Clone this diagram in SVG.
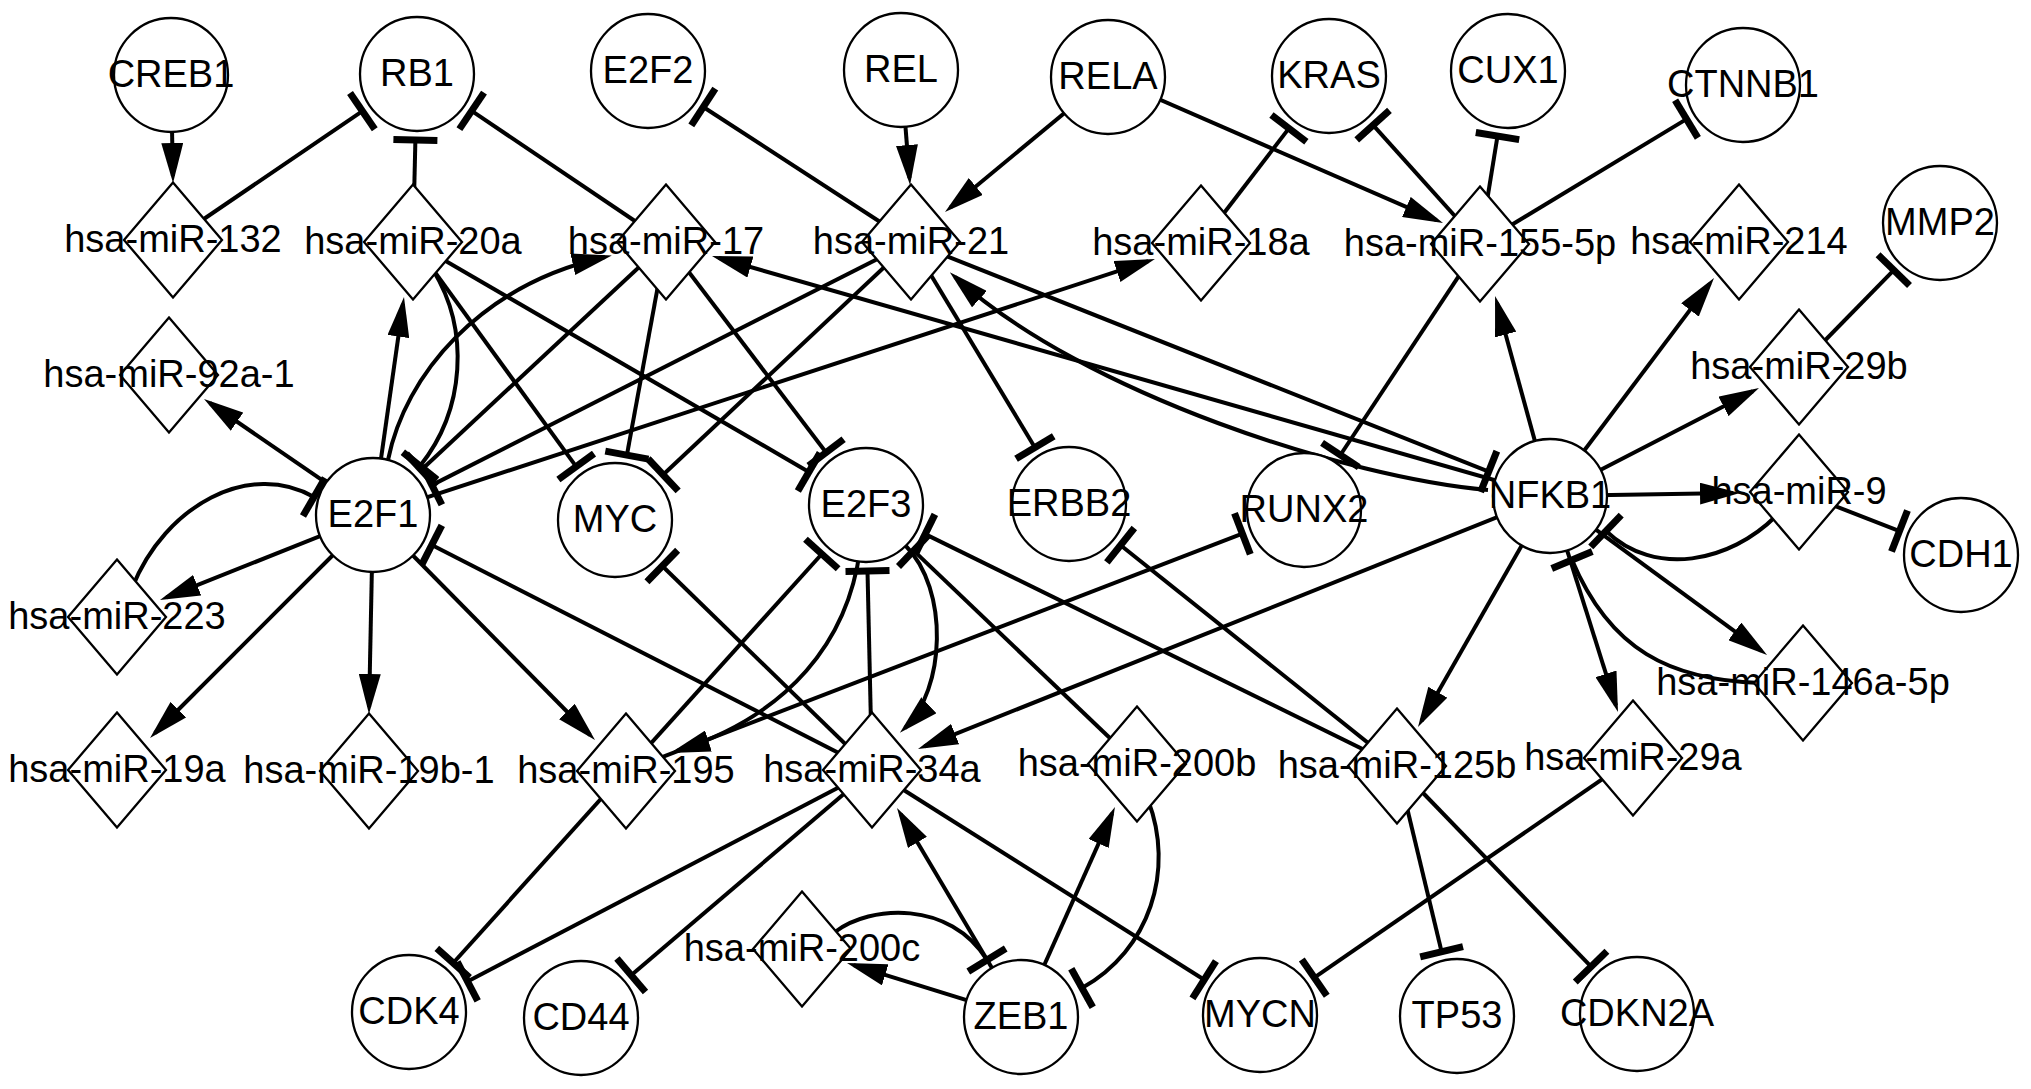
<svg xmlns="http://www.w3.org/2000/svg" width="2031" height="1089" viewBox="0 0 2031 1089">
<defs>
<style>
.node{fill:#fff;stroke:#000;stroke-width:2.3}
.lbl{font-family:"Liberation Sans",Arial,sans-serif;font-size:38px;text-anchor:middle;fill:#000}
.e{fill:none;stroke:#000;stroke-width:4}
.a{marker-end:url(#arr)}
.t{marker-end:url(#tee)}
</style>
<marker id="arr" markerUnits="userSpaceOnUse" viewBox="0 0 40 22" markerWidth="40" markerHeight="22" refX="33" refY="11" orient="auto"><path d="M0,0 L40,11 L0,22 Z" fill="#000"/></marker>
<marker id="tee" markerUnits="userSpaceOnUse" viewBox="-4 -23 8 46" markerWidth="8" markerHeight="46" refX="0" refY="0" orient="auto"><rect x="-3.5" y="-22" width="7" height="44" fill="#000"/></marker>
</defs>
<rect width="2031" height="1089" fill="#fff"/>
<g id="edges">
<path class="e a" d="M171,75 L172.9,176"/>
<path class="e a" d="M901,70 L909.5,178"/>
<path class="e a" d="M1108,77 L950.4,207.5"/>
<path class="e a" d="M1108,77 L1436.6,220.2"/>
<path class="e a" d="M1550,496 L1709.8,283.6"/>
<path class="e a" d="M1550,496 L1496.9,302.7"/>
<path class="e a" d="M1550,496 L1752.8,391.2"/>
<path class="e a" d="M1550,496 L1733,493.1"/>
<path class="e a" d="M1550,496 L1761.4,650.9"/>
<path class="e a" d="M1550,496 L1615.9,705.3"/>
<path class="e a" d="M1550,496 L1421.5,720.9"/>
<path class="e a" d="M1550,496 L924.5,746.4"/>
<path class="e a" d="M1550,496 L718.7,257.9"/>
<path class="e a" d="M373,515 L1148.3,261.2"/>
<path class="e a" d="M373,515 L209.8,403"/>
<path class="e a" d="M373,515 L166.5,597.4"/>
<path class="e a" d="M373,515 L155,733"/>
<path class="e a" d="M373,515 L369.1,707"/>
<path class="e a" d="M373,515 L590.1,735"/>
<path class="e a" d="M373,515 L403,303.9"/>
<path class="e a" d="M1021,1017 L1112.1,813.4"/>
<path class="e a" d="M1021,1017 L900.6,814"/>
<path class="e a" d="M1021,1017 L853.7,965.1"/>
<path class="e a" d="M388,460 C405,375 480,285 605,257"/>
<path class="e a" d="M1488,490 C1350,478 1085,395 955,277"/>
<path class="e a" d="M905,545 C950,590 945,690 905,728"/>
<path class="e a" d="M860,550 C848,640 790,715 677,751"/>
<path class="e t" d="M1776,516 C1730,562 1655,578 1606,531"/>
<path class="e t" d="M1760,683 C1670,680 1610,650 1572,560"/>
<path class="e t" d="M132,588 C165,505 250,460 314,497"/>
<path class="e t" d="M433,270 C470,330 465,410 420,466"/>
<path class="e t" d="M1148,800 C1175,870 1150,950 1082,988"/>
<path class="e t" d="M835,932 C870,905 950,900 987,960"/>
<path class="e t" d="M173,240 L362.4,111.1"/>
<path class="e t" d="M413,242 L415.4,140"/>
<path class="e t" d="M666,242 L471.7,110.9"/>
<path class="e t" d="M911,242 L703.3,107"/>
<path class="e t" d="M1201,243 L1288.9,128.4"/>
<path class="e t" d="M1480,244 L1373.1,125.1"/>
<path class="e t" d="M1480,244 L1497.5,136.1"/>
<path class="e t" d="M1480,244 L1686.5,119.1"/>
<path class="e t" d="M1799,367 L1893.8,270.2"/>
<path class="e t" d="M1799,492 L1899.5,531.1"/>
<path class="e t" d="M911,242 L1488.7,471.6"/>
<path class="e t" d="M1480,244 L1340.4,455"/>
<path class="e t" d="M872,770 L431.8,545"/>
<path class="e t" d="M666,242 L421.3,470"/>
<path class="e t" d="M911,242 L431.9,485.1"/>
<path class="e t" d="M413,242 L576.2,466.6"/>
<path class="e t" d="M413,242 L808.9,471.9"/>
<path class="e t" d="M666,242 L626.9,455.1"/>
<path class="e t" d="M666,242 L826.1,452.5"/>
<path class="e t" d="M911,242 L663.1,474.8"/>
<path class="e t" d="M911,242 L1034.9,447.5"/>
<path class="e t" d="M872,770 L662.3,566"/>
<path class="e t" d="M626,771 L821.8,554"/>
<path class="e t" d="M626,771 L1242.4,533.7"/>
<path class="e t" d="M872,770 L867.5,571"/>
<path class="e t" d="M1137,764 L913.7,550.6"/>
<path class="e t" d="M1397,766 L925.2,534.1"/>
<path class="e t" d="M1397,766 L1120.6,545.2"/>
<path class="e t" d="M872,770 L467.5,981.4"/>
<path class="e t" d="M626,771 L453.2,963"/>
<path class="e t" d="M872,770 L631.2,975.2"/>
<path class="e t" d="M872,770 L1204.2,979.8"/>
<path class="e t" d="M1633,758 L1314.3,977.6"/>
<path class="e t" d="M1397,766 L1441.6,951.8"/>
<path class="e t" d="M1397,766 L1591.1,966.6"/>
</g>
<g id="CREB1"><circle class="node" cx="171" cy="75" r="57"/><text class="lbl" x="171" y="87">CREB1</text></g>
<g id="RB1"><circle class="node" cx="417" cy="74" r="57"/><text class="lbl" x="417" y="86">RB1</text></g>
<g id="E2F2"><circle class="node" cx="648" cy="71" r="57"/><text class="lbl" x="648" y="83">E2F2</text></g>
<g id="REL"><circle class="node" cx="901" cy="70" r="57"/><text class="lbl" x="901" y="82">REL</text></g>
<g id="RELA"><circle class="node" cx="1108" cy="77" r="57"/><text class="lbl" x="1108" y="89">RELA</text></g>
<g id="KRAS"><circle class="node" cx="1329" cy="76" r="57"/><text class="lbl" x="1329" y="88">KRAS</text></g>
<g id="CUX1"><circle class="node" cx="1508" cy="71" r="57"/><text class="lbl" x="1508" y="83">CUX1</text></g>
<g id="CTNNB1"><circle class="node" cx="1743" cy="85" r="57"/><text class="lbl" x="1743" y="97">CTNNB1</text></g>
<g id="MMP2"><circle class="node" cx="1940" cy="223" r="57"/><text class="lbl" x="1940" y="235">MMP2</text></g>
<g id="E2F1"><circle class="node" cx="373" cy="515" r="57"/><text class="lbl" x="373" y="527">E2F1</text></g>
<g id="MYC"><circle class="node" cx="615" cy="520" r="57"/><text class="lbl" x="615" y="532">MYC</text></g>
<g id="E2F3"><circle class="node" cx="866" cy="505" r="57"/><text class="lbl" x="866" y="517">E2F3</text></g>
<g id="ERBB2"><circle class="node" cx="1069" cy="504" r="57"/><text class="lbl" x="1069" y="516">ERBB2</text></g>
<g id="RUNX2"><circle class="node" cx="1304" cy="510" r="57"/><text class="lbl" x="1304" y="522">RUNX2</text></g>
<g id="NFKB1"><circle class="node" cx="1550" cy="496" r="57"/><text class="lbl" x="1550" y="508">NFKB1</text></g>
<g id="CDH1"><circle class="node" cx="1961" cy="555" r="57"/><text class="lbl" x="1961" y="567">CDH1</text></g>
<g id="CDK4"><circle class="node" cx="409" cy="1012" r="57"/><text class="lbl" x="409" y="1024">CDK4</text></g>
<g id="CD44"><circle class="node" cx="581" cy="1018" r="57"/><text class="lbl" x="581" y="1030">CD44</text></g>
<g id="ZEB1"><circle class="node" cx="1021" cy="1017" r="57"/><text class="lbl" x="1021" y="1029">ZEB1</text></g>
<g id="MYCN"><circle class="node" cx="1260" cy="1015" r="57"/><text class="lbl" x="1260" y="1027">MYCN</text></g>
<g id="TP53"><circle class="node" cx="1457" cy="1016" r="57"/><text class="lbl" x="1457" y="1028">TP53</text></g>
<g id="CDKN2A"><circle class="node" cx="1637" cy="1014" r="57"/><text class="lbl" x="1637" y="1026">CDKN2A</text></g>
<g id="hsa-miR-132"><polygon class="node" points="173,182.5 222,240 173,297.5 124,240"/><text class="lbl" x="173" y="252">hsa-miR-132</text></g>
<g id="hsa-miR-20a"><polygon class="node" points="413,184.5 462,242 413,299.5 364,242"/><text class="lbl" x="413" y="254">hsa-miR-20a</text></g>
<g id="hsa-miR-17"><polygon class="node" points="666,184.5 715,242 666,299.5 617,242"/><text class="lbl" x="666" y="254">hsa-miR-17</text></g>
<g id="hsa-miR-21"><polygon class="node" points="911,184.5 960,242 911,299.5 862,242"/><text class="lbl" x="911" y="254">hsa-miR-21</text></g>
<g id="hsa-miR-18a"><polygon class="node" points="1201,185.5 1250,243 1201,300.5 1152,243"/><text class="lbl" x="1201" y="255">hsa-miR-18a</text></g>
<g id="hsa-miR-155-5p"><polygon class="node" points="1480,186.5 1529,244 1480,301.5 1431,244"/><text class="lbl" x="1480" y="256">hsa-miR-155-5p</text></g>
<g id="hsa-miR-214"><polygon class="node" points="1739,184.5 1788,242 1739,299.5 1690,242"/><text class="lbl" x="1739" y="254">hsa-miR-214</text></g>
<g id="hsa-miR-29b"><polygon class="node" points="1799,309.5 1848,367 1799,424.5 1750,367"/><text class="lbl" x="1799" y="379">hsa-miR-29b</text></g>
<g id="hsa-miR-92a-1"><polygon class="node" points="169,317.5 218,375 169,432.5 120,375"/><text class="lbl" x="169" y="387">hsa-miR-92a-1</text></g>
<g id="hsa-miR-9"><polygon class="node" points="1799,434.5 1848,492 1799,549.5 1750,492"/><text class="lbl" x="1799" y="504">hsa-miR-9</text></g>
<g id="hsa-miR-223"><polygon class="node" points="117,559.5 166,617 117,674.5 68,617"/><text class="lbl" x="117" y="629">hsa-miR-223</text></g>
<g id="hsa-miR-146a-5p"><polygon class="node" points="1803,625.5 1852,683 1803,740.5 1754,683"/><text class="lbl" x="1803" y="695">hsa-miR-146a-5p</text></g>
<g id="hsa-miR-19a"><polygon class="node" points="117,712.5 166,770 117,827.5 68,770"/><text class="lbl" x="117" y="782">hsa-miR-19a</text></g>
<g id="hsa-miR-19b-1"><polygon class="node" points="369,713.5 418,771 369,828.5 320,771"/><text class="lbl" x="369" y="783">hsa-miR-19b-1</text></g>
<g id="hsa-miR-195"><polygon class="node" points="626,713.5 675,771 626,828.5 577,771"/><text class="lbl" x="626" y="783">hsa-miR-195</text></g>
<g id="hsa-miR-34a"><polygon class="node" points="872,712.5 921,770 872,827.5 823,770"/><text class="lbl" x="872" y="782">hsa-miR-34a</text></g>
<g id="hsa-miR-200b"><polygon class="node" points="1137,706.5 1186,764 1137,821.5 1088,764"/><text class="lbl" x="1137" y="776">hsa-miR-200b</text></g>
<g id="hsa-miR-125b"><polygon class="node" points="1397,708.5 1446,766 1397,823.5 1348,766"/><text class="lbl" x="1397" y="778">hsa-miR-125b</text></g>
<g id="hsa-miR-29a"><polygon class="node" points="1633,700.5 1682,758 1633,815.5 1584,758"/><text class="lbl" x="1633" y="770">hsa-miR-29a</text></g>
<g id="hsa-miR-200c"><polygon class="node" points="802,891.5 851,949 802,1006.5 753,949"/><text class="lbl" x="802" y="961">hsa-miR-200c</text></g>
</svg>
